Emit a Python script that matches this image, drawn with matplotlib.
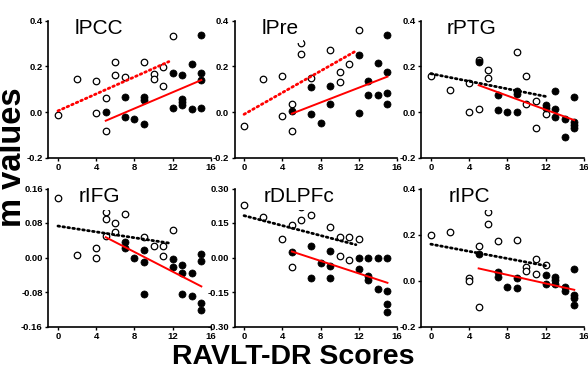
import matplotlib
matplotlib.use("Agg")
import matplotlib.pyplot as plt
import numpy as np

plt.rcParams['font.family'] = ['Liberation Sans', 'DejaVu Sans']

# ---------------- data ----------------
titles = ["lPCC", "lPre", "rPTG", "rIFG", "rDLPFc", "rIPC"]

# open circles (group A)
open_x = [
    [0, 2, 4, 4, 5, 5, 6, 6, 7, 9, 10, 10, 11, 11, 12],
    [0, 2, 4, 4, 5, 5, 6, 6, 7, 9, 10, 10, 11, 12],
    [0, 2, 4, 4, 5, 5, 6, 6, 9, 10, 10, 11, 11, 12],
    [0, 2, 4, 4, 5, 5, 5, 6, 6, 7, 9, 10, 11, 11, 12],
    [0, 2, 4, 5, 5, 6, 6, 7, 9, 10, 10, 11, 11, 12],
    [0, 2, 4, 4, 5, 5, 6, 6, 7, 9, 10, 10, 11, 11, 12],
]
open_y = [
    [-0.013, 0.143, 0.134, -0.006, 0.061, -0.082, 0.219, 0.162, 0.152, 0.220, 0.166, 0.146, 0.196, 0.115, 0.334],
    [-0.060, 0.145, 0.156, -0.019, 0.036, -0.083, 0.302, 0.253, 0.150, 0.273, 0.177, 0.131, 0.210, 0.358],
    [0.158, 0.095, 0.126, 0.000, 0.228, 0.013, 0.184, 0.149, 0.261, 0.159, 0.036, 0.047, -0.070, -0.009],
    [0.139, 0.005, 0.021, -0.001, 0.106, 0.089, 0.049, 0.079, 0.058, 0.102, 0.047, 0.026, 0.027, 0.004, 0.064],
    [0.230, 0.176, 0.079, 0.140, -0.042, 0.220, 0.165, 0.184, 0.133, 0.087, 0.007, 0.091, -0.013, 0.080],
    [0.196, 0.213, 0.010, -0.003, 0.148, -0.114, 0.296, 0.245, 0.172, 0.175, 0.057, 0.042, 0.093, 0.028, 0.067],
]

# filled circles (group B)
fill_x = [
    [5, 7, 7, 8, 9, 9, 9, 12, 12, 13, 13, 13, 13, 14, 14, 15, 15, 15, 15],
    [5, 7, 7, 8, 9, 9, 12, 12, 13, 13, 14, 14, 15, 15, 15, 15],
    [5, 7, 7, 8, 9, 9, 9, 12, 12, 13, 13, 13, 14, 14, 15, 15, 15, 15],
    [7, 7, 8, 9, 9, 9, 12, 12, 13, 13, 13, 14, 14, 15, 15, 15, 15],
    [5, 7, 7, 8, 9, 9, 9, 12, 12, 13, 13, 13, 14, 14, 15, 15, 15, 15],
    [5, 7, 7, 8, 9, 9, 12, 12, 13, 13, 13, 14, 14, 15, 15, 15, 15],
]
fill_y = [
    [0.000, 0.064, -0.023, -0.031, 0.064, 0.053, -0.054, 0.169, 0.019, 0.161, 0.055, 0.045, 0.029, 0.209, 0.015, 0.337, 0.172, 0.140, 0.016],
    [0.006, 0.108, -0.009, -0.047, 0.112, 0.036, 0.248, -0.006, 0.134, 0.074, 0.215, 0.074, 0.336, 0.177, 0.082, 0.035],
    [0.220, 0.073, 0.010, -0.001, 0.093, 0.079, -0.001, 0.032, 0.018, 0.093, 0.013, -0.022, -0.029, -0.111, 0.066, -0.045, -0.058, -0.068],
    [0.036, 0.023, 0.000, 0.017, -0.010, -0.084, -0.004, -0.022, -0.017, -0.037, -0.084, -0.035, -0.090, 0.008, -0.008, -0.105, -0.121],
    [0.023, 0.051, -0.091, -0.026, 0.029, -0.038, -0.090, -0.004, -0.048, -0.004, -0.080, -0.097, -0.004, -0.138, -0.004, -0.146, -0.200, -0.236],
    [0.114, 0.035, 0.017, -0.029, 0.010, -0.033, 0.023, -0.017, 0.017, 0.002, -0.016, -0.028, -0.047, 0.048, -0.062, -0.076, -0.108],
]

# regression lines: (intercept, slope, x start, x end)
open_fit = [
    (0.005, 0.0186, 0, 11.6),
    (-0.010, 0.0237, 0, 11.7),
    (0.168, -0.0083, 0, 12.0),
    (0.073, -0.0034, 0, 11.7),
    (0.182, -0.0108, 0, 11.7),
    (0.158, -0.0078, 0, 12.0),
]
fill_fit = [
    (-0.127, 0.0178, 5, 15),
    (-0.088, 0.0162, 5, 15),
    (0.194, -0.0153, 5, 15),
    (0.104, -0.0114, 5, 15),
    (0.094, -0.0136, 5, 15),
    (0.099, -0.0093, 5, 15),
]
open_line_color = ["red", "red", "black", "black", "black", "black"]

y_limits = [(-0.2, 0.4), (-0.2, 0.4), (-0.2, 0.4), (-0.16, 0.16), (-0.30, 0.30), (-0.2, 0.4)]
y_ticks = [
    [-0.2, 0.0, 0.2, 0.4],
    [-0.2, 0.0, 0.2, 0.4],
    [-0.2, 0.0, 0.2, 0.4],
    [-0.16, -0.08, 0.0, 0.08, 0.16],
    [-0.30, -0.15, 0.0, 0.15, 0.30],
    [-0.2, 0.0, 0.2, 0.4],
]
y_fmt = ["%.1f", "%.1f", "%.1f", "%.2f", "%.2f", "%.1f"]
x_ticks = [0, 4, 8, 12, 16]
title_x = [0.164, 0.167, 0.156, 0.184, 0.177, 0.166]

# ---------------- figure ----------------
W, H = 588, 375
fig = plt.figure(figsize=(W / 100, H / 100), dpi=100)

lefts = [48.4, 234.5, 421.3]
tops = [20.7, 188.5]
heights = [137, 138]
aw = 162.5

for i in range(6):
    r, c = divmod(i, 3)
    ax = fig.add_axes([lefts[c] / W, 1 - (tops[r] + heights[r]) / H, aw / W, heights[r] / H])
    ax.set_xlim(-1, 16)
    ax.set_ylim(*y_limits[i])
    for s in ["top", "right"]:
        ax.spines[s].set_visible(False)
    for s in ["left", "bottom"]:
        ax.spines[s].set_linewidth(1.2)
    ax.set_xticks(x_ticks)
    ax.set_xticklabels([str(t) for t in x_ticks])
    ax.set_yticks(y_ticks[i])
    ax.set_yticklabels([y_fmt[i] % t for t in y_ticks[i]])
    ax.tick_params(direction="out", length=2.5, width=1.0, labelsize=6.8, pad=1.5)
    for lab in ax.get_xticklabels() + ax.get_yticklabels():
        lab.set_fontweight("bold")

    ax.scatter(open_x[i], open_y[i], s=22, facecolors="white", edgecolors="black",
               linewidths=0.9, zorder=3, clip_on=False)
    ax.scatter(fill_x[i], fill_y[i], s=26, facecolors="black", edgecolors="black",
               linewidths=0.5, zorder=3, clip_on=False)

    b0, b1, xa, xb = open_fit[i]
    xs = np.array([xa, xb])
    ax.plot(xs, b0 + b1 * xs, color=open_line_color[i], lw=2.0,
            linestyle=(0, (0.6, 1.2)), dash_capstyle="round", zorder=4)
    b0, b1, xa, xb = fill_fit[i]
    xs = np.array([xa, xb])
    ax.plot(xs, b0 + b1 * xs, color="red", lw=1.4, zorder=4)

    ax.text(title_x[i], 0.90, titles[i], transform=ax.transAxes, fontsize=15,
            ha="left", va="baseline", zorder=10,
            bbox=dict(facecolor="white", edgecolor="none", pad=3.0))

fig.text(13 / W, 1 - 157 / H, "m values", rotation=90, fontsize=23.5, fontweight="bold",
         ha="center", va="center")
fig.text(293 / W, 1 - 357 / H, "RAVLT-DR Scores", fontsize=20.5, fontweight="bold",
         ha="center", va="center")

fig.savefig("out.png", dpi=100)
